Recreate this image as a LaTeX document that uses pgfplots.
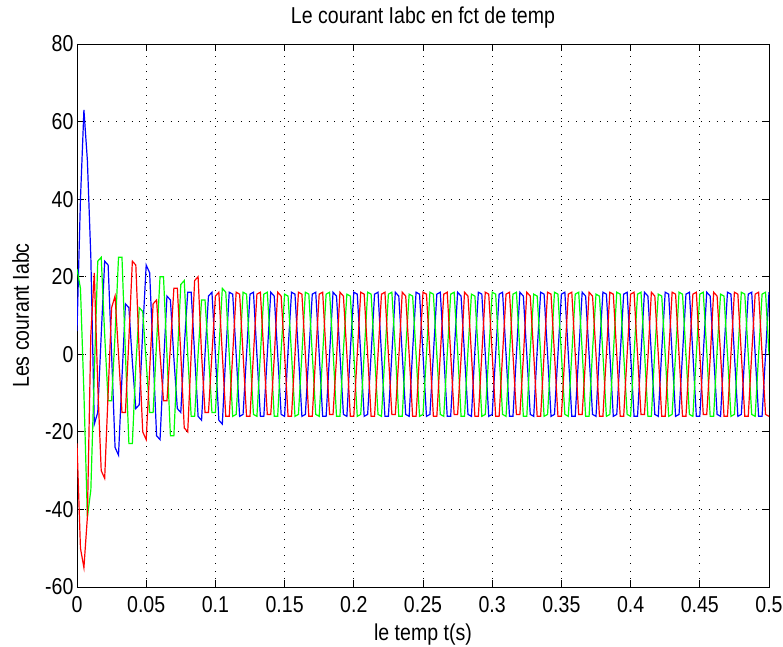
\documentclass[border=0pt]{standalone}
\usepackage{pgfplots}
\pgfplotsset{compat=1.18}
\usepackage{pgfplotstable}
\usepackage{fontspec}
\setmainfont{Liberation Sans}[FakeStretch=0.85]
\pgfplotstableread{
t b r g
0 6 -23 22
0.0025 40 -50 17
0.005 63 -55 -10
0.0075 50 -42 -42
0.01 25 5 -35
0.0125 -18 21 -5
0.015 -15 -8 24
0.0175 5 -30 25
0.02 24 -32 5
0.0225 23 -10 -12
0.025 0 12 -12
0.0275 -24 15 5
0.03 -26 0 25
0.0325 -6 -15 25
0.035 13 -15 0
0.0375 12 4 -23
0.04 -2 24 -23
0.0425 -14 23 -3
0.045 -13 0 12
0.0475 6 -20 11
0.05 23 -22 -2
0.0525 21 -4 -15
0.055 0 13 -15
0.0575 -21 14 3
0.06 -22 0 20
0.0625 -3 -12 20
0.065 15 -12 0
0.0675 14 2 -21
0.07 -1 17 -21
0.0725 -14 17 -1
0.075 -15 0 18
0.0775 2 -19 19
0.08 16 -20 0
0.0825 16 0 -16
0.085 0 19 -16
0.0875 -16 20 0
0.09 -17 0 14
0.0925 0 -15 14
0.095 15 -15 0
0.0975 16 0 -15
0.1 0 15 -15
0.1025 -17 16 1
0.105 -18 0 17
0.1075 0 -16 16
0.11 16 -16 0
0.1125 15.5 0 -16
0.115 0 16 -15.5
0.1175 -16 15.5 0
0.12 -15.5 0 16
0.1225 0 -16 15.5
0.125 15.5 -16 0
0.1275 16 0 -15.5
0.13 0 15.5 -16
0.1325 -16 16 0
0.135 -16 0 15.5
0.1375 0 -15.5 16
0.14 16 -15.5 1
0.1425 15 -1 -16
0.145 0 16 -16
0.1475 -15.5 15 1
0.15 -16 0 15.5
0.1525 1 -16 15
0.155 16 -16 0
0.1575 15.5 0 -16
0.16 0 16 -15.5
0.1625 -16 15.5 0
0.165 -15.5 0 16
0.1675 0 -16 15.5
0.17 15.5 -16 0
0.1725 16 0 -15.5
0.175 0 15.5 -16
0.1775 -16 16 0
0.18 -16 0 15.5
0.1825 0 -15.5 16
0.185 16 -15.5 1
0.1875 15 -1 -16
0.19 0 16 -16
0.1925 -15.5 15 1
0.195 -16 0 15.5
0.1975 1 -16 15
0.2 16 -16 0
0.2025 15.5 0 -16
0.205 0 16 -15.5
0.2075 -16 15.5 0
0.21 -15.5 0 16
0.2125 0 -16 15.5
0.215 15.5 -16 0
0.2175 16 0 -15.5
0.22 0 15.5 -16
0.2225 -16 16 0
0.225 -16 0 15.5
0.2275 0 -15.5 16
0.23 16 -15.5 1
0.2325 15 -1 -16
0.235 0 16 -16
0.2375 -15.5 15 1
0.24 -16 0 15.5
0.2425 1 -16 15
0.245 16 -16 0
0.2475 15.5 0 -16
0.25 0 16 -15.5
0.2525 -16 15.5 0
0.255 -15.5 0 16
0.2575 0 -16 15.5
0.26 15.5 -16 0
0.2625 16 0 -15.5
0.265 0 15.5 -16
0.2675 -16 16 0
0.27 -16 0 15.5
0.2725 0 -15.5 16
0.275 16 -15.5 1
0.2775 15 -1 -16
0.28 0 16 -16
0.2825 -15.5 15 1
0.285 -16 0 15.5
0.2875 1 -16 15
0.29 16 -16 0
0.2925 15.5 0 -16
0.295 0 16 -15.5
0.2975 -16 15.5 0
0.3 -15.5 0 16
0.3025 0 -16 15.5
0.305 15.5 -16 0
0.3075 16 0 -15.5
0.31 0 15.5 -16
0.3125 -16 16 0
0.315 -16 0 15.5
0.3175 0 -15.5 16
0.32 16 -15.5 1
0.3225 15 -1 -16
0.325 0 16 -16
0.3275 -15.5 15 1
0.33 -16 0 15.5
0.3325 1 -16 15
0.335 16 -16 0
0.3375 15.5 0 -16
0.34 0 16 -15.5
0.3425 -16 15.5 0
0.345 -15.5 0 16
0.3475 0 -16 15.5
0.35 15.5 -16 0
0.3525 16 0 -15.5
0.355 0 15.5 -16
0.3575 -16 16 0
0.36 -16 0 15.5
0.3625 0 -15.5 16
0.365 16 -15.5 1
0.3675 15 -1 -16
0.37 0 16 -16
0.3725 -15.5 15 1
0.375 -16 0 15.5
0.3775 1 -16 15
0.38 16 -16 0
0.3825 15.5 0 -16
0.385 0 16 -15.5
0.3875 -16 15.5 0
0.39 -15.5 0 16
0.3925 0 -16 15.5
0.395 15.5 -16 0
0.3975 16 0 -15.5
0.4 0 15.5 -16
0.4025 -16 16 0
0.405 -16 0 15.5
0.4075 0 -15.5 16
0.41 16 -15.5 1
0.4125 15 -1 -16
0.415 0 16 -16
0.4175 -15.5 15 1
0.42 -16 0 15.5
0.4225 1 -16 15
0.425 16 -16 0
0.4275 15.5 0 -16
0.43 0 16 -15.5
0.4325 -16 15.5 0
0.435 -15.5 0 16
0.4375 0 -16 15.5
0.44 15.5 -16 0
0.4425 16 0 -15.5
0.445 0 15.5 -16
0.4475 -16 16 0
0.45 -16 0 15.5
0.4525 0 -15.5 16
0.455 16 -15.5 1
0.4575 15 -1 -16
0.46 0 16 -16
0.4625 -15.5 15 1
0.465 -16 0 15.5
0.4675 1 -16 15
0.47 16 -16 0
0.4725 15.5 0 -16
0.475 0 16 -15.5
0.4775 -16 15.5 0
0.48 -15.5 0 16
0.4825 0 -16 15.5
0.485 15.5 -16 0
0.4875 16 0 -15.5
0.49 0 15.5 -16
0.4925 -16 16 0
0.495 -16 0 15.5
0.4975 0 -15.5 16
0.5 16 -16 0
}\currents
\begin{document}
\begin{tikzpicture}
\useasboundingbox (0,0) rectangle (783pt,646pt);
\begin{axis}[
  at={(77pt,59pt)}, anchor=south west,
  width=692pt, height=543pt, scale only axis,
  xmin=0, xmax=0.5, ymin=-60, ymax=80,
  xtick={0,0.05,0.1,0.15,0.2,0.25,0.3,0.35,0.4,0.45,0.5},
  xticklabels={0,0.05,0.1,0.15,0.2,0.25,0.3,0.35,0.4,0.45,0.5},
  ytick={-60,-40,-20,0,20,40,60,80},
  yticklabels={-60,-40,-20,0,20,40,60,80},
  tick align=inside, major tick length=7pt,
  xtick pos=both, ytick pos=both,
  grid=major,
  grid style={black, line width=0.8pt, dash pattern=on 0.8pt off 7pt},
  axis line style={black, line width=0.8pt},
  tick style={black, line width=0.8pt},
  every tick label/.style={font=\fontsize{23}{26}\selectfont},
  xticklabel style={anchor=base, yshift=-25pt},
  title={Le courant Iabc en fct de temp},
  title style={font=\fontsize{23}{26}\selectfont, at={([yshift=14pt]axis description cs:0.5,1)}, anchor=base},
  xlabel={le temp t(s)},
  xlabel style={font=\fontsize{23}{26}\selectfont, at={([yshift=-53pt]axis description cs:0.5,0)}, anchor=base},
  ylabel={Les courant Iabc},
  ylabel style={font=\fontsize{23}{26}\selectfont, at={([xshift=-48pt]axis description cs:0,0.5)}, anchor=base, rotate=0},
]
\addplot[blue, line width=1.2pt] table[x=t, y=b] {\currents};
\addplot[green, line width=1.2pt] table[x=t, y=g] {\currents};
\addplot[red, line width=1.2pt] table[x=t, y=r] {\currents};
\end{axis}
\end{tikzpicture}
\end{document}
